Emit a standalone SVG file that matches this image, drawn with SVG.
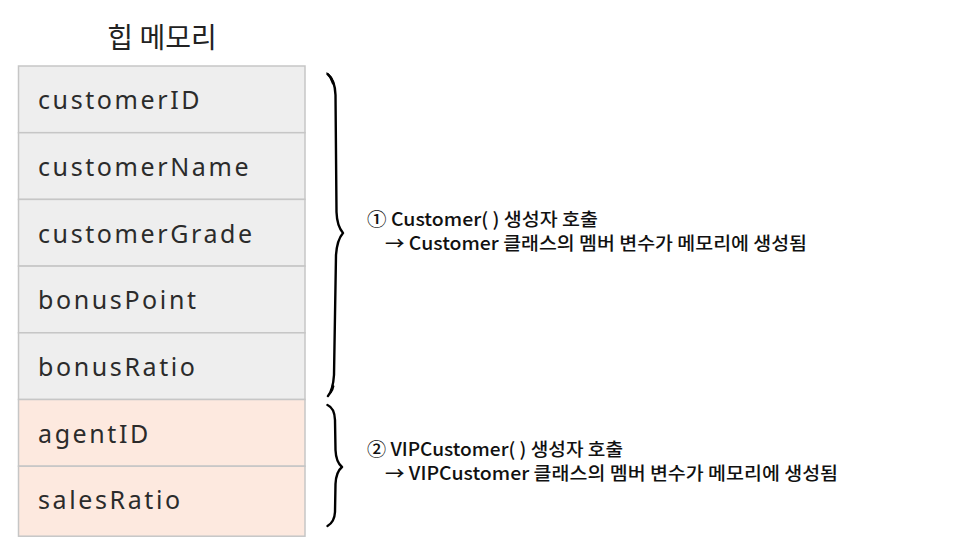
<svg xmlns="http://www.w3.org/2000/svg" width="960" height="552" viewBox="0 0 960 552">
<style>
.title{font-family:"Noto Sans CJK KR","Noto Sans",sans-serif;font-size:28px;font-weight:400;fill:#222;text-anchor:middle}
.cell{stroke:#c6c6c6;stroke-width:1.5}
.gray{fill:#eeeeee}
.peach{fill:#fde9df}
.lbl{font-family:"Noto Sans","DejaVu Sans",sans-serif;font-size:25px;fill:#2b2b2b;letter-spacing:2.6px}
.note{font-family:"Noto Sans CJK KR","Noto Sans",sans-serif;font-size:18.5px;font-weight:500;fill:#111}
.brace{fill:none;stroke:#000;stroke-width:2.4;stroke-linecap:round;stroke-linejoin:round}
.end{fill:#000}
</style>
<rect width="960" height="552" fill="#ffffff"/>
<text class="title" x="162" y="48">힙 메모리</text>
<g id="customerID"><rect class="cell gray" x="18.5" y="66" width="286.5" height="66.7"/><text class="lbl" x="38" y="109">customerID</text></g>
<g id="customerName"><rect class="cell gray" x="18.5" y="132.7" width="286.5" height="66.7"/><text class="lbl" x="38" y="176">customerName</text></g>
<g id="customerGrade"><rect class="cell gray" x="18.5" y="199.4" width="286.5" height="66.7"/><text class="lbl" x="38" y="242.5">customerGrade</text></g>
<g id="bonusPoint"><rect class="cell gray" x="18.5" y="266.1" width="286.5" height="66.7"/><text class="lbl" x="38" y="309">bonusPoint</text></g>
<g id="bonusRatio"><rect class="cell gray" x="18.5" y="332.8" width="286.5" height="66.7"/><text class="lbl" x="38" y="376">bonusRatio</text></g>
<g id="agentID"><rect class="cell peach" x="18.5" y="399.5" width="286.5" height="66.7"/><text class="lbl" x="38" y="443">agentID</text></g>
<g id="salesRatio"><rect class="cell peach" x="18.5" y="466.2" width="286.5" height="70"/><text class="lbl" x="38" y="509">salesRatio</text></g>
<g id="connectors">
<path class="brace" d="M 327.5 74 Q 335 80 335.5 95 L 336.5 212 Q 337 226 343 233 Q 337 240 336 255 L 334 375 Q 333 390 328 396"/>
<path class="end" d="M 326 72 Q 333 75 335 86 L 332 84 Q 330 78 326 72 Z"/>
<path class="end" d="M 326.5 397 Q 331 392 332 384 L 334.5 386 Q 333 394 326.5 397 Z"/>
<path class="brace" d="M 327.5 405 Q 334.5 408 335 420 L 335.5 450 Q 336 462 342 467 Q 336 472 335.5 484 L 335 512 Q 334.5 522 327.5 526"/>
</g>
<g id="note1">
<text class="note" x="367" y="226" textLength="231" lengthAdjust="spacingAndGlyphs">① Customer( ) 생성자 호출</text>
<text class="note" x="385" y="249.5" textLength="422" lengthAdjust="spacingAndGlyphs">→ Customer 클래스의 멤버 변수가 메모리에 생성됨</text>
</g>
<g id="note2">
<text class="note" x="367" y="456" textLength="256" lengthAdjust="spacingAndGlyphs">② VIPCustomer( ) 생성자 호출</text>
<text class="note" x="385" y="479.5" textLength="453" lengthAdjust="spacingAndGlyphs">→ VIPCustomer 클래스의 멤버 변수가 메모리에 생성됨</text>
</g>
</svg>
